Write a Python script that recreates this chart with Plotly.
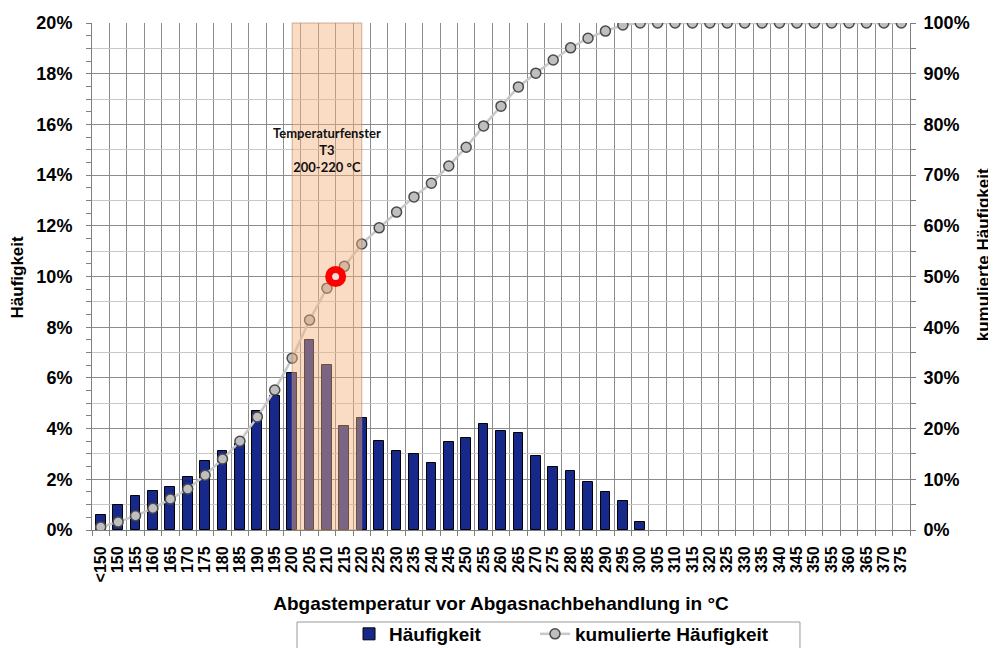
import plotly.graph_objects as go

# --- data -------------------------------------------------------------
labels = ["<150", "150", "155", "160", "165", "170", "175", "180", "185", "190",
          "195", "200", "205", "210", "215", "220", "225", "230", "235", "240",
          "245", "250", "255", "260", "265", "270", "275", "280", "285", "290",
          "295", "300", "305", "310", "315", "320", "325", "330", "335", "340",
          "345", "350", "355", "360", "365", "370", "375"]
temps = [145, 150, 155, 160, 165, 170, 175, 180, 185, 190,
         195, 200, 205, 210, 215, 220, 225, 230, 235, 240,
         245, 250, 255, 260, 265, 270, 275, 280, 285, 290,
         295, 300, 305, 310, 315, 320, 325, 330, 335, 340,
         345, 350, 355, 360, 365, 370, 375]
haeufigkeit = [0.60, 0.97, 1.34, 1.53, 1.71, 2.10, 2.72, 3.12, 3.40, 4.70,
               5.30, 6.20, 7.50, 6.50, 4.10, 4.40, 3.50, 3.10, 3.00, 2.65,
               3.47, 3.62, 4.19, 3.90, 3.81, 2.92, 2.50, 2.33, 1.91, 1.51,
               1.14, 0.33, 0, 0, 0, 0, 0, 0, 0, 0,
               0, 0, 0, 0, 0, 0, 0]
kumuliert = [0.6, 1.6, 2.8, 4.3, 6.1, 8.1, 10.8, 14.0, 17.5, 22.3,
             27.6, 33.9, 41.4, 47.7, 52.0, 56.4, 59.6, 62.7, 65.7, 68.4,
             71.8, 75.5, 79.7, 83.6, 87.4, 90.1, 92.7, 95.1, 97.0, 98.4,
             99.6, 100, 100, 100, 100, 100, 100, 100, 100, 100,
             100, 100, 100, 100, 100, 100, 100]
fenster = [200, 220]          # Temperaturfenster T3
punkt_x = 212.5               # marked point (50 % cumulative)
punkt_y = 50

FONT = "Liberation Sans, Arial, sans-serif"
GRID_DARK = "#8c8c8c"
GRID_LIGHT = "#c8c8c8"
AXIS = "#7f7f7f"

fig = go.Figure()

fig.add_trace(go.Bar(
    x=temps, y=haeufigkeit, name="Häufigkeit", legend="legend",
    marker=dict(color="#16298a",
                line=dict(color="#000000", width=[1 if v > 0 else 0 for v in haeufigkeit])),
    width=2.8, yaxis="y",
))
fig.add_trace(go.Scatter(
    x=temps, y=kumuliert, name="kumulierte Häufigkeit", yaxis="y2", legend="legend2",
    mode="lines+markers",
    line=dict(color="#c8c8c8", width=2.5),
    marker=dict(symbol="circle", size=10, color="#bfbfbf",
                line=dict(color="#4a4a4a", width=1.5)),
))

# temperature window band (semi-transparent, over the bars)
fig.add_shape(type="rect", xref="x", yref="paper",
              x0=fenster[0], x1=fenster[1], y0=0, y1=1,
              fillcolor="rgba(245,178,125,0.45)",
              line=dict(color="rgba(170,130,100,0.6)", width=1),
              layer="above")

# red ring marking the 50 % point (drawn above the band)
fig.add_shape(type="circle", xref="x", yref="y2",
              xsizemode="pixel", ysizemode="pixel",
              xanchor=punkt_x, yanchor=punkt_y,
              x0=-7, x1=7, y0=-7, y1=7,
              fillcolor="#f6dede", line=dict(color="#ff0000", width=7),
              layer="above")

fig.add_annotation(x=(fenster[0] + fenster[1]) / 2, y=15, xref="x", yref="y",
                   text="<b>Temperaturfenster</b><br><b>T3</b><br><b>200-220 °C</b>",
                   showarrow=False, font=dict(family="Lato, sans-serif", size=13, color="#111111"))

# y titles
fig.add_annotation(xref="paper", yref="paper", x=-0.0905, y=0.5, textangle=-90,
                   xanchor="center", yanchor="middle",
                   text="<b>Häufigkeit</b>", showarrow=False,
                   font=dict(family=FONT, size=17, color="#000000"))
fig.add_annotation(xref="paper", yref="paper", x=1.0895, y=0.5424, textangle=-90,
                   xanchor="center", yanchor="middle",
                   text="<b>kumulierte Häufigkeit</b>", showarrow=False,
                   font=dict(family=FONT, size=17, color="#000000"))

# legend frame
fig.add_shape(type="rect", xref="paper", yref="paper",
              x0=0.2506, x1=0.8655, y0=-0.30, y1=-0.1815,
              line=dict(color="#9a9a9a", width=1), fillcolor="rgba(0,0,0,0)")

boundaries = [t - 2.5 for t in temps] + [temps[-1] + 2.5]

legend_font = dict(family=FONT, size=19, color="#000000", weight="bold")

fig.update_layout(
    width=996, height=648,
    margin=dict(l=84, r=94, t=15, b=126, autoexpand=False),
    paper_bgcolor="white", plot_bgcolor="white",
    font=dict(family=FONT, color="#000000"),
    bargap=0,
    showlegend=True,
    legend=dict(orientation="h", xref="container", yref="container",
                x=0.3424, xanchor="left", y=0.0633, yanchor="top",
                font=legend_font, bgcolor="rgba(0,0,0,0)"),
    legend2=dict(orientation="h", xref="container", yref="container",
                 x=0.5291, xanchor="left", y=0.0633, yanchor="top",
                 font=legend_font, bgcolor="rgba(0,0,0,0)"),
    xaxis=dict(
        range=[temps[0] - 2.5, temps[-1] + 2.5], automargin=False,
        tickmode="array", tickvals=temps, ticktext=["<b>%s</b>" % l for l in labels],
        tickangle=-90, tickfont=dict(size=16, family=FONT),
        ticks="", showgrid=False, zeroline=False,
        showline=True, linecolor=AXIS, linewidth=1,
        ticklabelstandoff=9,
        minor=dict(tickmode="array", tickvals=boundaries, ticks="outside",
                   ticklen=5, tickcolor=AXIS, showgrid=True,
                   gridcolor=GRID_DARK, gridwidth=1),
        title=dict(text="<b>Abgastemperatur vor Abgasnachbehandlung in °C</b>",
                   font=dict(size=19, family=FONT), standoff=15),
    ),
    yaxis=dict(
        range=[0, 20], dtick=2, ticksuffix="%", automargin=False,
        tickfont=dict(size=18, family=FONT, weight="bold"),
        showgrid=True, gridcolor=GRID_DARK, gridwidth=1, zeroline=False,
        ticks="outside", ticklen=5, tickcolor=AXIS,
        showline=True, linecolor=AXIS, linewidth=1,
        minor=dict(dtick=0.5, ticks="outside", ticklen=5, tickcolor=AXIS, showgrid=False),
        ticklabelstandoff=10,
    ),
    yaxis2=dict(
        range=[0, 100], dtick=10, ticksuffix="%", overlaying="y", side="right",
        automargin=False,
        tickfont=dict(size=18, family=FONT, weight="bold"),
        showgrid=False, zeroline=False,
        ticks="outside", ticklen=5, tickcolor=AXIS,
        showline=True, linecolor=AXIS, linewidth=1,
        minor=dict(dtick=5, ticks="outside", ticklen=5, tickcolor=AXIS,
                   showgrid=True, gridcolor=GRID_LIGHT, gridwidth=1),
        ticklabelstandoff=4,
    ),
)

fig.write_html("out.html")
